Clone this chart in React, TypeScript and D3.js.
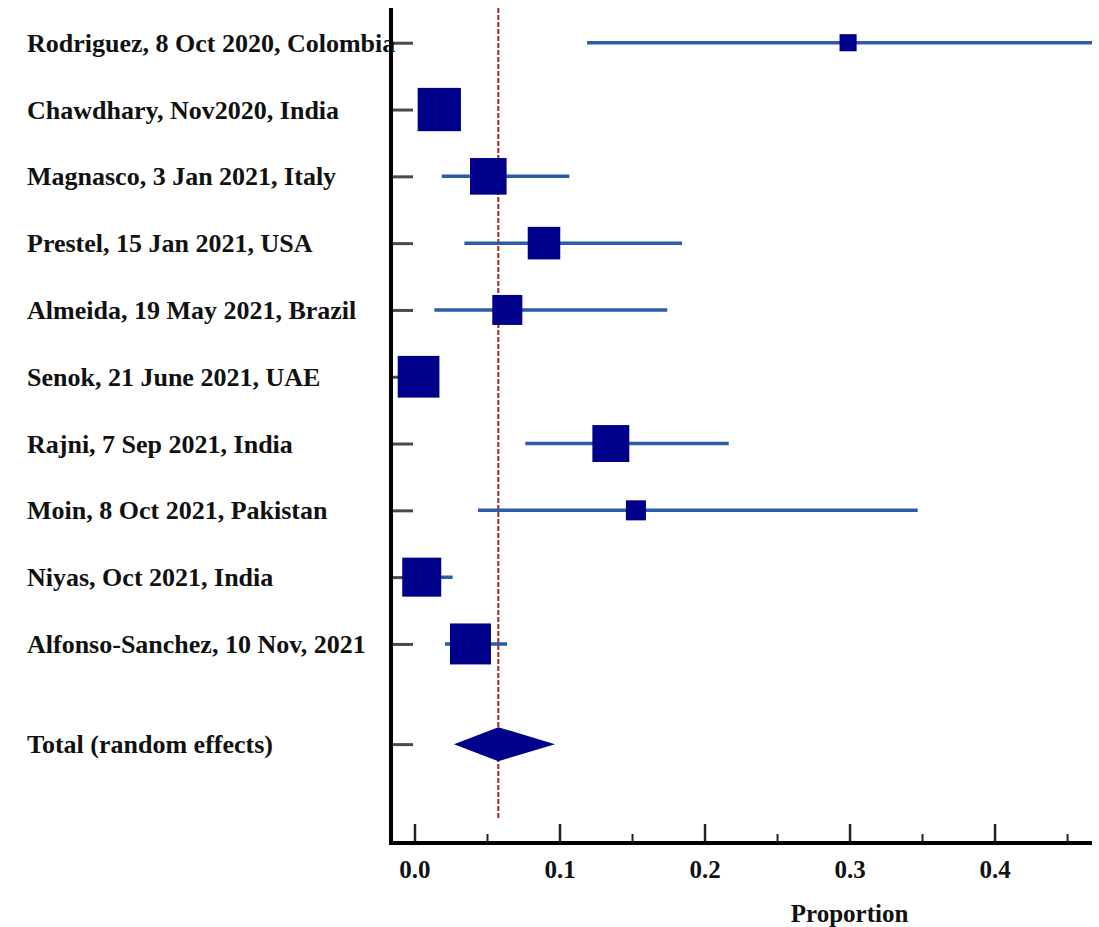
import React, { useRef, useEffect } from "react";
import { select, scaleLinear, scaleSqrt, axisBottom, axisRight, max } from "d3";

const studies = [
  "Rodriguez, 8 Oct 2020, Colombia",
  "Chawdhary, Nov2020, India",
  "Magnasco, 3 Jan 2021, Italy",
  "Prestel, 15 Jan 2021, USA",
  "Almeida, 19 May 2021, Brazil",
  "Senok, 21 June 2021, UAE",
  "Rajni, 7 Sep 2021, India",
  "Moin, 8 Oct 2021, Pakistan",
  "Niyas, Oct 2021, India",
  "Alfonso-Sanchez, 10 Nov, 2021",
];
const proportions = [0.299, 0.0171, 0.0509, 0.0893, 0.064, 0.0028, 0.1354, 0.1527, 0.005, 0.0386];
const lowerCI = [0.119, 0.006, 0.0188, 0.0344, 0.0137, 0.0, 0.0764, 0.0438, 0.0, 0.021];
const upperCI = [0.52, 0.03, 0.1068, 0.1845, 0.1743, 0.012, 0.2167, 0.347, 0.0263, 0.0638];
const weights = [2.4, 15.4, 11.0, 8.7, 7.4, 14.3, 11.2, 3.3, 12.5, 13.8];

const pooledLabel = "Total (random effects)";
const pooled = 0.0578;
const pooledLower = 0.0272;
const pooledUpper = 0.0969;

const majorTicks = [0, 0.1, 0.2, 0.3, 0.4];
const minorTicks = [0.05, 0.15, 0.25, 0.35, 0.45];

const FONT = "'Liberation Serif', 'Times New Roman', serif";
const NAVY = "#00008b";
const CI_BLUE = "#2c5ba8";

function ForestPlot() {
  const xAxisRef = useRef<SVGGElement>(null);
  const yAxisRef = useRef<SVGGElement>(null);

  const left = 391;
  const right = 1092;
  const top = 8;
  const bottom = 843;

  const x = scaleLinear().domain([-0.0162, 0.4672]).range([left, right]);
  const y = scaleLinear().domain([-0.52, 11.98]).range([top, bottom]);
  const size = scaleSqrt().domain([0, max(weights) as number]).range([0, 43.3]);
  const pooledRow = 10.5;

  useEffect(() => {
    const gx = select(xAxisRef.current);
    gx.selectAll("*").remove();
    // minor ticks first, then the labelled ones
    gx.append("g")
      .call(axisBottom(x).tickValues(minorTicks).tickSize(-9).tickFormat(() => ""))
      .call(g => g.select(".domain").remove())
      .selectAll("line").attr("stroke", "#222").attr("stroke-width", 2);
    gx.append("g")
      .call(axisBottom(x).tickValues(majorTicks).tickSize(-19).tickPadding(17).tickFormat(d => (+d).toFixed(1)))
      .call(g => g.select(".domain").remove())
      .call(g => g.selectAll("line").attr("stroke", "#222").attr("stroke-width", 2.5))
      .call(g => g.selectAll("text")
        .attr("font-family", FONT).attr("font-size", 25).attr("font-weight", "bold").attr("fill", "#111"));

    const gy = select(yAxisRef.current);
    gy.selectAll("*").remove();
    gy.call(axisRight(y).tickValues([...studies.map((_, i) => i), pooledRow]).tickSize(22).tickFormat(() => ""))
      .call(g => g.select(".domain").remove())
      .selectAll("line").attr("stroke", "#4a4a4a").attr("stroke-width", 3);
  }, []);

  return (
    <svg width={1099} height={927} style={{ position: "absolute", left: 0, top: 0, background: "#fff" }}>
      <defs>
        <clipPath id="plot-clip">
          <rect x={left} y={top} width={right - left} height={bottom - top} />
        </clipPath>
      </defs>

      <g ref={yAxisRef} transform={`translate(${left},0)`} />

      {/* study labels */}
      {studies.map((s, i) => (
        <text key={s} x={27} y={y(i) + 9} fontFamily={FONT} fontSize={26} fontWeight="bold" fill="#111">{s}</text>
      ))}
      <text x={27} y={y(pooledRow) + 9} fontFamily={FONT} fontSize={26} fontWeight="bold" fill="#111">{pooledLabel}</text>

      {/* pooled estimate line */}
      <line x1={x(pooled)} x2={x(pooled)} y1={top} y2={820} stroke="#b22222" strokeWidth={2} strokeDasharray="5,2" />

      <g clipPath="url(#plot-clip)">
        {studies.map((s, i) => (
          <line key={s} x1={x(lowerCI[i])} x2={x(upperCI[i])} y1={y(i)} y2={y(i)} stroke={CI_BLUE} strokeWidth={3.5} />
        ))}
        {studies.map((s, i) => {
          const w = size(weights[i]);
          return <rect key={s} x={x(proportions[i]) - w / 2} y={y(i) - w / 2} width={w} height={w} fill={NAVY} />;
        })}
        <polygon
          points={[
            [x(pooledLower), y(pooledRow)],
            [x(pooled), y(pooledRow) - 17],
            [x(pooledUpper), y(pooledRow)],
            [x(pooled), y(pooledRow) + 17],
          ].map(p => p.join(",")).join(" ")}
          fill={NAVY}
        />
      </g>

      {/* axes */}
      <g ref={xAxisRef} transform={`translate(0,${bottom})`} />
      <line x1={left} x2={left} y1={top} y2={bottom + 2} stroke="#000" strokeWidth={4} />
      <line x1={left - 2} x2={right} y1={bottom} y2={bottom} stroke="#000" strokeWidth={4} />

      <text x={x(0.3)} y={922} textAnchor="middle" fontFamily={FONT} fontSize={25} fontWeight="bold" fill="#111">Proportion</text>
    </svg>
  );
}

export default function App() {
  return <ForestPlot />;
}
